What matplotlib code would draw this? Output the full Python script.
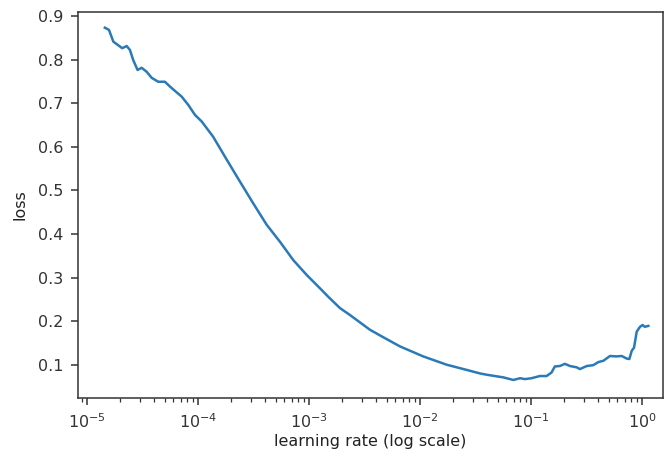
import matplotlib
matplotlib.use("Agg")
import matplotlib.pyplot as plt
import numpy as np

learning_rate = [1.45e-5, 1.58e-5, 1.73e-5, 1.91e-5, 2.08e-5, 2.28e-5, 2.44e-5, 2.61e-5,
                 2.86e-5, 3.11e-5, 3.45e-5, 3.83e-5, 4.39e-5, 5.04e-5, 5.60e-5, 6.21e-5,
                 7.13e-5, 8.18e-5, 9.40e-5, 1.08e-4, 1.37e-4, 1.82e-4, 2.39e-4, 3.15e-4,
                 4.16e-4, 5.48e-4, 7.22e-4, 9.53e-4, 1.26e-3, 1.49e-3, 1.90e-3, 2.34e-3,
                 3.55e-3, 4.67e-3, 6.60e-3, 1.07e-2, 1.74e-2, 2.64e-2, 3.47e-2, 3.99e-2,
                 5.62e-2, 6.93e-2, 7.96e-2, 8.83e-2, 0.101, 0.120, 0.138, 0.153, 0.164,
                 0.182, 0.202, 0.224, 0.258, 0.276, 0.318, 0.364, 0.404, 0.448, 0.515,
                 0.591, 0.656, 0.728, 0.769, 0.808, 0.847, 0.896, 0.960, 1.01, 1.06, 1.14]
loss = [0.873, 0.868, 0.841, 0.833, 0.826, 0.831, 0.822, 0.799,
        0.776, 0.781, 0.772, 0.758, 0.749, 0.749, 0.738, 0.728,
        0.715, 0.696, 0.673, 0.658, 0.623, 0.570, 0.520, 0.470,
        0.421, 0.382, 0.340, 0.306, 0.275, 0.256, 0.230, 0.214,
        0.180, 0.163, 0.142, 0.119, 0.100, 0.088, 0.080, 0.077,
        0.071, 0.065, 0.069, 0.067, 0.069, 0.074, 0.074, 0.082, 0.096,
        0.097, 0.102, 0.097, 0.094, 0.090, 0.097, 0.099, 0.106, 0.109, 0.120,
        0.119, 0.120, 0.114, 0.113, 0.132, 0.139, 0.176, 0.187, 0.191, 0.187, 0.189]

yticks = [0.1, 0.2, 0.3, 0.4, 0.5, 0.6, 0.7, 0.8, 0.9]

plt.rcParams['font.family'] = ['DejaVu Sans']
fig = plt.figure(figsize=(6.66, 4.61), dpi=100)
ax = fig.add_axes([0.117, 0.137, 0.9955 - 0.117, 0.974 - 0.137])
ax.plot(learning_rate, loss, color='#2a7ab8', lw=1.8, solid_joinstyle='round')
ax.set_xscale('log')
ax.set_xlim(8.3e-6, 1.545)
ax.set_ylim(0.024, 0.909)
ax.set_yticks(yticks)
ax.set_yticklabels([f"{v:.1f}" for v in yticks])
ax.set_xlabel('learning rate (log scale)', fontsize=11.5, color='#222222', labelpad=2)
ax.set_ylabel('loss', fontsize=11.5, color='#222222', labelpad=7)
ax.tick_params(axis='both', which='major', labelsize=11.5, length=4.7, width=1.1,
               pad=6, colors='#333333', labelcolor='#333333')
ax.tick_params(axis='x', which='minor', length=2.6, width=0.9, colors='#333333')
for s in ax.spines.values():
    s.set_linewidth(1.1)
    s.set_color('#333333')
fig.savefig('out.png', dpi=100)
